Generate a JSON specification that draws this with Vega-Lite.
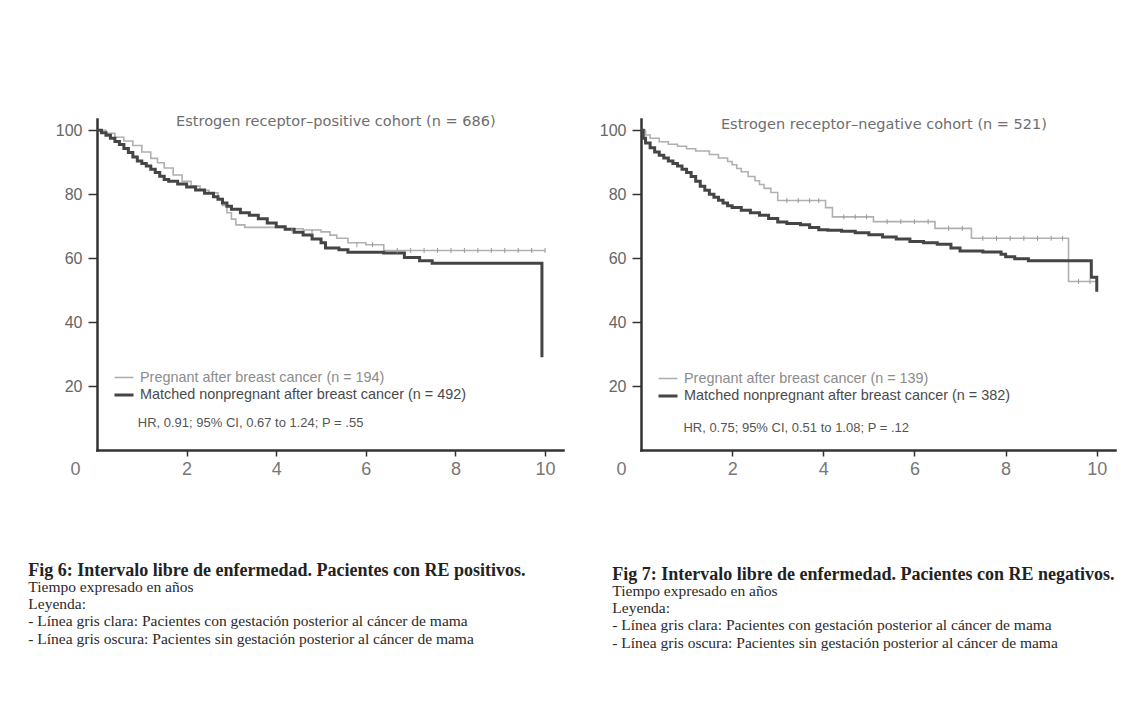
{
  "$schema": "https://vega.github.io/schema/vega-lite/v6.json",
  "background": "white",
  "padding": {"left": 28, "top": 113, "right": 5, "bottom": 5},
  "spacing": 36,
  "config": {
    "view": {"stroke": null},
    "font": "Liberation Sans",
    "axis": {"grid": false, "title": null, "domainColor": "#333333", "domainWidth": 2.5, "domainCap": "square", "tickColor": "#333333", "tickWidth": 1.5, "labelColor": "#666666", "labelFont": "Liberation Sans", "labelFlush": false}
  },
  "resolve": {"scale": {"color": "independent", "strokeWidth": "independent"}, "legend": {"color": "independent", "strokeWidth": "independent"}},
  "datasets": {
    "erpos": [
      {"t": 0, "s": 100, "g": "Pregnant after breast cancer (n = 194)"},
      {"t": 0.2, "s": 99, "g": "Pregnant after breast cancer (n = 194)"},
      {"t": 0.4, "s": 97.8, "g": "Pregnant after breast cancer (n = 194)"},
      {"t": 0.6, "s": 96.6, "g": "Pregnant after breast cancer (n = 194)"},
      {"t": 0.8, "s": 95.2, "g": "Pregnant after breast cancer (n = 194)"},
      {"t": 1.0, "s": 93.2, "g": "Pregnant after breast cancer (n = 194)"},
      {"t": 1.2, "s": 91.2, "g": "Pregnant after breast cancer (n = 194)"},
      {"t": 1.35, "s": 89.8, "g": "Pregnant after breast cancer (n = 194)"},
      {"t": 1.5, "s": 88.2, "g": "Pregnant after breast cancer (n = 194)"},
      {"t": 1.7, "s": 86, "g": "Pregnant after breast cancer (n = 194)"},
      {"t": 1.9, "s": 84, "g": "Pregnant after breast cancer (n = 194)"},
      {"t": 2.1, "s": 82.5, "g": "Pregnant after breast cancer (n = 194)"},
      {"t": 2.3, "s": 81.2, "g": "Pregnant after breast cancer (n = 194)"},
      {"t": 2.5, "s": 80.4, "g": "Pregnant after breast cancer (n = 194)"},
      {"t": 2.7, "s": 78.6, "g": "Pregnant after breast cancer (n = 194)"},
      {"t": 2.8, "s": 76.5, "g": "Pregnant after breast cancer (n = 194)"},
      {"t": 2.9, "s": 74.2, "g": "Pregnant after breast cancer (n = 194)"},
      {"t": 3.0, "s": 72.2, "g": "Pregnant after breast cancer (n = 194)"},
      {"t": 3.1, "s": 70.4, "g": "Pregnant after breast cancer (n = 194)"},
      {"t": 3.3, "s": 69.6, "g": "Pregnant after breast cancer (n = 194)"},
      {"t": 4.2, "s": 69.2, "g": "Pregnant after breast cancer (n = 194)"},
      {"t": 4.6, "s": 68.8, "g": "Pregnant after breast cancer (n = 194)"},
      {"t": 5.0, "s": 68.2, "g": "Pregnant after breast cancer (n = 194)"},
      {"t": 5.2, "s": 67.2, "g": "Pregnant after breast cancer (n = 194)"},
      {"t": 5.35, "s": 66.2, "g": "Pregnant after breast cancer (n = 194)"},
      {"t": 5.6, "s": 64.8, "g": "Pregnant after breast cancer (n = 194)"},
      {"t": 6.0, "s": 64.2, "g": "Pregnant after breast cancer (n = 194)"},
      {"t": 6.4, "s": 62.4, "g": "Pregnant after breast cancer (n = 194)"},
      {"t": 10.0, "s": 62.4, "g": "Pregnant after breast cancer (n = 194)"},
      {"t": 0, "s": 100, "g": "Matched nonpregnant after breast cancer (n = 492)"},
      {"t": 0.1, "s": 99.2, "g": "Matched nonpregnant after breast cancer (n = 492)"},
      {"t": 0.2, "s": 98.4, "g": "Matched nonpregnant after breast cancer (n = 492)"},
      {"t": 0.3, "s": 97.5, "g": "Matched nonpregnant after breast cancer (n = 492)"},
      {"t": 0.4, "s": 96.5, "g": "Matched nonpregnant after breast cancer (n = 492)"},
      {"t": 0.5, "s": 95.5, "g": "Matched nonpregnant after breast cancer (n = 492)"},
      {"t": 0.6, "s": 94.3, "g": "Matched nonpregnant after breast cancer (n = 492)"},
      {"t": 0.7, "s": 93, "g": "Matched nonpregnant after breast cancer (n = 492)"},
      {"t": 0.8, "s": 91.6, "g": "Matched nonpregnant after breast cancer (n = 492)"},
      {"t": 0.9, "s": 90.4, "g": "Matched nonpregnant after breast cancer (n = 492)"},
      {"t": 1.0, "s": 89.6, "g": "Matched nonpregnant after breast cancer (n = 492)"},
      {"t": 1.1, "s": 88.8, "g": "Matched nonpregnant after breast cancer (n = 492)"},
      {"t": 1.2, "s": 87.8, "g": "Matched nonpregnant after breast cancer (n = 492)"},
      {"t": 1.3, "s": 86.8, "g": "Matched nonpregnant after breast cancer (n = 492)"},
      {"t": 1.4, "s": 85.6, "g": "Matched nonpregnant after breast cancer (n = 492)"},
      {"t": 1.5, "s": 84.6, "g": "Matched nonpregnant after breast cancer (n = 492)"},
      {"t": 1.6, "s": 84, "g": "Matched nonpregnant after breast cancer (n = 492)"},
      {"t": 1.8, "s": 83.2, "g": "Matched nonpregnant after breast cancer (n = 492)"},
      {"t": 2.0, "s": 82.2, "g": "Matched nonpregnant after breast cancer (n = 492)"},
      {"t": 2.2, "s": 81.3, "g": "Matched nonpregnant after breast cancer (n = 492)"},
      {"t": 2.4, "s": 80.3, "g": "Matched nonpregnant after breast cancer (n = 492)"},
      {"t": 2.6, "s": 79.2, "g": "Matched nonpregnant after breast cancer (n = 492)"},
      {"t": 2.7, "s": 78.4, "g": "Matched nonpregnant after breast cancer (n = 492)"},
      {"t": 2.8, "s": 77.2, "g": "Matched nonpregnant after breast cancer (n = 492)"},
      {"t": 2.9, "s": 76.2, "g": "Matched nonpregnant after breast cancer (n = 492)"},
      {"t": 3.0, "s": 75.3, "g": "Matched nonpregnant after breast cancer (n = 492)"},
      {"t": 3.2, "s": 74.2, "g": "Matched nonpregnant after breast cancer (n = 492)"},
      {"t": 3.4, "s": 73.4, "g": "Matched nonpregnant after breast cancer (n = 492)"},
      {"t": 3.6, "s": 72.3, "g": "Matched nonpregnant after breast cancer (n = 492)"},
      {"t": 3.8, "s": 71, "g": "Matched nonpregnant after breast cancer (n = 492)"},
      {"t": 4.0, "s": 69.8, "g": "Matched nonpregnant after breast cancer (n = 492)"},
      {"t": 4.2, "s": 69, "g": "Matched nonpregnant after breast cancer (n = 492)"},
      {"t": 4.4, "s": 68.1, "g": "Matched nonpregnant after breast cancer (n = 492)"},
      {"t": 4.6, "s": 67.2, "g": "Matched nonpregnant after breast cancer (n = 492)"},
      {"t": 4.8, "s": 66, "g": "Matched nonpregnant after breast cancer (n = 492)"},
      {"t": 5.0, "s": 64.8, "g": "Matched nonpregnant after breast cancer (n = 492)"},
      {"t": 5.1, "s": 63.2, "g": "Matched nonpregnant after breast cancer (n = 492)"},
      {"t": 5.4, "s": 62.6, "g": "Matched nonpregnant after breast cancer (n = 492)"},
      {"t": 5.6, "s": 61.8, "g": "Matched nonpregnant after breast cancer (n = 492)"},
      {"t": 6.4, "s": 61.6, "g": "Matched nonpregnant after breast cancer (n = 492)"},
      {"t": 6.86, "s": 60.2, "g": "Matched nonpregnant after breast cancer (n = 492)"},
      {"t": 7.2, "s": 59.2, "g": "Matched nonpregnant after breast cancer (n = 492)"},
      {"t": 7.48, "s": 58.4, "g": "Matched nonpregnant after breast cancer (n = 492)"},
      {"t": 9.93, "s": 29, "g": "Matched nonpregnant after breast cancer (n = 492)"}
    ],
    "erneg": [
      {"t": 0, "s": 100, "g": "Pregnant after breast cancer (n = 139)"},
      {"t": 0.1, "s": 98.5, "g": "Pregnant after breast cancer (n = 139)"},
      {"t": 0.2, "s": 97.5, "g": "Pregnant after breast cancer (n = 139)"},
      {"t": 0.4, "s": 96.4, "g": "Pregnant after breast cancer (n = 139)"},
      {"t": 0.6, "s": 95.6, "g": "Pregnant after breast cancer (n = 139)"},
      {"t": 0.8, "s": 95, "g": "Pregnant after breast cancer (n = 139)"},
      {"t": 1.0, "s": 94.2, "g": "Pregnant after breast cancer (n = 139)"},
      {"t": 1.2, "s": 93.5, "g": "Pregnant after breast cancer (n = 139)"},
      {"t": 1.5, "s": 92.4, "g": "Pregnant after breast cancer (n = 139)"},
      {"t": 1.7, "s": 91.3, "g": "Pregnant after breast cancer (n = 139)"},
      {"t": 1.9, "s": 90.2, "g": "Pregnant after breast cancer (n = 139)"},
      {"t": 2.0, "s": 89.2, "g": "Pregnant after breast cancer (n = 139)"},
      {"t": 2.1, "s": 88, "g": "Pregnant after breast cancer (n = 139)"},
      {"t": 2.2, "s": 87, "g": "Pregnant after breast cancer (n = 139)"},
      {"t": 2.35, "s": 85.5, "g": "Pregnant after breast cancer (n = 139)"},
      {"t": 2.5, "s": 84.2, "g": "Pregnant after breast cancer (n = 139)"},
      {"t": 2.6, "s": 83, "g": "Pregnant after breast cancer (n = 139)"},
      {"t": 2.7, "s": 81.8, "g": "Pregnant after breast cancer (n = 139)"},
      {"t": 2.85, "s": 80.5, "g": "Pregnant after breast cancer (n = 139)"},
      {"t": 3.0, "s": 78, "g": "Pregnant after breast cancer (n = 139)"},
      {"t": 4.05, "s": 75.8, "g": "Pregnant after breast cancer (n = 139)"},
      {"t": 4.2, "s": 72.9, "g": "Pregnant after breast cancer (n = 139)"},
      {"t": 5.1, "s": 71.4, "g": "Pregnant after breast cancer (n = 139)"},
      {"t": 6.45, "s": 69.3, "g": "Pregnant after breast cancer (n = 139)"},
      {"t": 7.25, "s": 66.2, "g": "Pregnant after breast cancer (n = 139)"},
      {"t": 9.38, "s": 52.7, "g": "Pregnant after breast cancer (n = 139)"},
      {"t": 10.0, "s": 52, "g": "Pregnant after breast cancer (n = 139)"},
      {"t": 0, "s": 100, "g": "Matched nonpregnant after breast cancer (n = 382)"},
      {"t": 0.05, "s": 97.5, "g": "Matched nonpregnant after breast cancer (n = 382)"},
      {"t": 0.1, "s": 96, "g": "Matched nonpregnant after breast cancer (n = 382)"},
      {"t": 0.2, "s": 94.5, "g": "Matched nonpregnant after breast cancer (n = 382)"},
      {"t": 0.3, "s": 93.2, "g": "Matched nonpregnant after breast cancer (n = 382)"},
      {"t": 0.4, "s": 92.2, "g": "Matched nonpregnant after breast cancer (n = 382)"},
      {"t": 0.5, "s": 91.3, "g": "Matched nonpregnant after breast cancer (n = 382)"},
      {"t": 0.6, "s": 90.4, "g": "Matched nonpregnant after breast cancer (n = 382)"},
      {"t": 0.7, "s": 89.6, "g": "Matched nonpregnant after breast cancer (n = 382)"},
      {"t": 0.8, "s": 88.8, "g": "Matched nonpregnant after breast cancer (n = 382)"},
      {"t": 0.9, "s": 87.8, "g": "Matched nonpregnant after breast cancer (n = 382)"},
      {"t": 1.0, "s": 86.8, "g": "Matched nonpregnant after breast cancer (n = 382)"},
      {"t": 1.1, "s": 85.5, "g": "Matched nonpregnant after breast cancer (n = 382)"},
      {"t": 1.2, "s": 84, "g": "Matched nonpregnant after breast cancer (n = 382)"},
      {"t": 1.3, "s": 82.5, "g": "Matched nonpregnant after breast cancer (n = 382)"},
      {"t": 1.4, "s": 81.2, "g": "Matched nonpregnant after breast cancer (n = 382)"},
      {"t": 1.5, "s": 80, "g": "Matched nonpregnant after breast cancer (n = 382)"},
      {"t": 1.6, "s": 79, "g": "Matched nonpregnant after breast cancer (n = 382)"},
      {"t": 1.7, "s": 78.1, "g": "Matched nonpregnant after breast cancer (n = 382)"},
      {"t": 1.8, "s": 77.2, "g": "Matched nonpregnant after breast cancer (n = 382)"},
      {"t": 1.9, "s": 76.4, "g": "Matched nonpregnant after breast cancer (n = 382)"},
      {"t": 2.0, "s": 75.8, "g": "Matched nonpregnant after breast cancer (n = 382)"},
      {"t": 2.2, "s": 75, "g": "Matched nonpregnant after breast cancer (n = 382)"},
      {"t": 2.4, "s": 74.2, "g": "Matched nonpregnant after breast cancer (n = 382)"},
      {"t": 2.6, "s": 73.4, "g": "Matched nonpregnant after breast cancer (n = 382)"},
      {"t": 2.8, "s": 72.4, "g": "Matched nonpregnant after breast cancer (n = 382)"},
      {"t": 3.0, "s": 71.3, "g": "Matched nonpregnant after breast cancer (n = 382)"},
      {"t": 3.2, "s": 70.8, "g": "Matched nonpregnant after breast cancer (n = 382)"},
      {"t": 3.5, "s": 70.4, "g": "Matched nonpregnant after breast cancer (n = 382)"},
      {"t": 3.7, "s": 69.6, "g": "Matched nonpregnant after breast cancer (n = 382)"},
      {"t": 3.9, "s": 68.9, "g": "Matched nonpregnant after breast cancer (n = 382)"},
      {"t": 4.1, "s": 68.7, "g": "Matched nonpregnant after breast cancer (n = 382)"},
      {"t": 4.4, "s": 68.4, "g": "Matched nonpregnant after breast cancer (n = 382)"},
      {"t": 4.7, "s": 67.9, "g": "Matched nonpregnant after breast cancer (n = 382)"},
      {"t": 5.0, "s": 67.3, "g": "Matched nonpregnant after breast cancer (n = 382)"},
      {"t": 5.3, "s": 66.6, "g": "Matched nonpregnant after breast cancer (n = 382)"},
      {"t": 5.6, "s": 66, "g": "Matched nonpregnant after breast cancer (n = 382)"},
      {"t": 5.9, "s": 65.2, "g": "Matched nonpregnant after breast cancer (n = 382)"},
      {"t": 6.2, "s": 64.8, "g": "Matched nonpregnant after breast cancer (n = 382)"},
      {"t": 6.5, "s": 64.3, "g": "Matched nonpregnant after breast cancer (n = 382)"},
      {"t": 6.8, "s": 63.2, "g": "Matched nonpregnant after breast cancer (n = 382)"},
      {"t": 7.0, "s": 62.2, "g": "Matched nonpregnant after breast cancer (n = 382)"},
      {"t": 7.5, "s": 61.9, "g": "Matched nonpregnant after breast cancer (n = 382)"},
      {"t": 7.9, "s": 61.2, "g": "Matched nonpregnant after breast cancer (n = 382)"},
      {"t": 8.0, "s": 60.4, "g": "Matched nonpregnant after breast cancer (n = 382)"},
      {"t": 8.2, "s": 59.8, "g": "Matched nonpregnant after breast cancer (n = 382)"},
      {"t": 8.5, "s": 59.2, "g": "Matched nonpregnant after breast cancer (n = 382)"},
      {"t": 9.88, "s": 54, "g": "Matched nonpregnant after breast cancer (n = 382)"},
      {"t": 10.0, "s": 49.5, "g": "Matched nonpregnant after breast cancer (n = 382)"}
    ],
    "cenpos": [
      {"t": 4.35, "s": 68.8}, {"t": 4.8, "s": 68.2}, {"t": 5.8, "s": 64.2}, {"t": 6.15, "s": 64.2},
      {"t": 6.7, "s": 62.4}, {"t": 7.0, "s": 62.4}, {"t": 7.3, "s": 62.4}, {"t": 7.6, "s": 62.4},
      {"t": 7.9, "s": 62.4}, {"t": 8.2, "s": 62.4}, {"t": 8.5, "s": 62.4}, {"t": 8.8, "s": 62.4},
      {"t": 9.1, "s": 62.4}, {"t": 9.4, "s": 62.4}, {"t": 9.7, "s": 62.4}, {"t": 10.0, "s": 62.4}
    ],
    "cenneg": [
      {"t": 3.2, "s": 78}, {"t": 3.45, "s": 78}, {"t": 3.7, "s": 78}, {"t": 3.9, "s": 78},
      {"t": 4.45, "s": 72.9}, {"t": 4.7, "s": 72.9}, {"t": 4.95, "s": 72.9},
      {"t": 5.4, "s": 71.4}, {"t": 5.7, "s": 71.4}, {"t": 6.0, "s": 71.4}, {"t": 6.3, "s": 71.4},
      {"t": 6.75, "s": 69.3}, {"t": 7.05, "s": 69.3},
      {"t": 7.5, "s": 66.2}, {"t": 7.8, "s": 66.2}, {"t": 8.1, "s": 66.2}, {"t": 8.4, "s": 66.2},
      {"t": 8.7, "s": 66.2}, {"t": 9.0, "s": 66.2}, {"t": 9.25, "s": 66.2},
      {"t": 9.6, "s": 52.7}, {"t": 9.85, "s": 52.7}
    ],
    "notes": [
      {"panel": "pos", "kind": "head", "label": "Estrogen receptor–positive cohort (n = 686)"},
      {"panel": "pos", "kind": "hr", "label": "HR, 0.91; 95% CI, 0.67 to 1.24; P = .55"},
      {"panel": "neg", "kind": "head", "label": "Estrogen receptor–negative cohort (n = 521)"},
      {"panel": "neg", "kind": "hr", "label": "HR, 0.75; 95% CI, 0.51 to 1.08; P = .12"}
    ]
  },
  "hconcat": [
    {
      "width": 466,
      "height": 331,
      "title": {
        "text": "Fig 6: Intervalo libre de enfermedad. Pacientes con RE positivos.",
        "subtitle": ["Tiempo expresado en años", "Leyenda:", "- Línea gris clara: Pacientes con gestación posterior al cáncer de mama", "- Línea gris oscura: Pacientes sin gestación posterior al cáncer de mama"],
        "orient": "bottom", "anchor": "start", "frame": "bounds", "dx": -27, "offset": 84,
        "font": "Liberation Serif", "fontSize": 18, "fontWeight": "bold", "color": "#222222",
        "subtitleFont": "Liberation Serif", "subtitleFontSize": 15.5, "subtitleColor": "#2a2a2a",
        "subtitlePadding": 0, "subtitleLineHeight": 17.2
      },
      "layer": [
        {
          "data": {"name": "erpos"},
          "mark": {"type": "line", "interpolate": "step-after"},
          "encoding": {
            "x": {"field": "t", "type": "quantitative", "scale": {"domain": [0, 10.4], "nice": false, "zero": false},
              "axis": {"values": [0, 2, 4, 6, 8, 10], "labelFontSize": 18, "labelColor": "#777777", "labelPadding": 4, "tickSize": 6,
                "labelOffset": {"condition": {"test": "datum.value === 0", "value": -22}, "value": 0},
                "tickOpacity": {"condition": {"test": "datum.value === 0", "value": 0}, "value": 1}}},
            "y": {"field": "s", "type": "quantitative", "scale": {"domain": [0, 103.5], "nice": false},
              "axis": {"values": [20, 40, 60, 80, 100], "labelFontSize": 16, "labelPadding": 6, "tickSize": 9}},
            "color": {"field": "g", "type": "nominal",
              "scale": {"domain": ["Pregnant after breast cancer (n = 194)", "Matched nonpregnant after breast cancer (n = 492)"], "range": ["#b0b0b0", "#454545"]},
              "legend": {"orient": "none", "legendX": 16, "legendY": 248, "title": null, "labelFontSize": 14.4, "labelFont": "Liberation Sans", "symbolSize": 361, "rowPadding": -1, "labelOffset": 5, "padding": 0, "labelLimit": 400,
                "encode": {"labels": {"update": {"fill": {"signal": "indexof(datum.label, 'Pregnant') === 0 ? '#8c8c8c' : '#4a4a4a'"}}}}}},
            "strokeWidth": {"field": "g", "type": "nominal",
              "scale": {"domain": ["Pregnant after breast cancer (n = 194)", "Matched nonpregnant after breast cancer (n = 492)"], "range": [1.6, 3]},
              "legend": {"orient": "none", "legendX": 16, "legendY": 248, "title": null, "labelFontSize": 14.4, "labelFont": "Liberation Sans", "symbolSize": 361, "rowPadding": -1, "labelOffset": 5, "padding": 0, "labelLimit": 400,
                "encode": {"labels": {"update": {"fill": {"signal": "indexof(datum.label, 'Pregnant') === 0 ? '#8c8c8c' : '#4a4a4a'"}}}}}}
          }
        },
        {
          "data": {"name": "cenpos"},
          "mark": {"type": "point", "shape": "M0,-1L0,1", "size": 25, "strokeWidth": 1, "color": "#999999", "filled": false, "opacity": 1},
          "encoding": {"x": {"field": "t", "type": "quantitative"}, "y": {"field": "s", "type": "quantitative"}}
        },
        {
          "data": {"name": "notes"},
          "transform": [{"filter": "datum.panel === 'pos' && datum.kind === 'head'"}],
          "mark": {"type": "text", "align": "center", "baseline": "middle", "fontSize": 14.5, "font": "DejaVu Sans", "color": "#6e6e6e"},
          "encoding": {"x": {"datum": 5.33, "type": "quantitative"}, "y": {"datum": 102.6, "type": "quantitative"}, "text": {"field": "label"}}
        },
        {
          "data": {"name": "notes"},
          "transform": [{"filter": "datum.panel === 'pos' && datum.kind === 'hr'"}],
          "mark": {"type": "text", "align": "left", "baseline": "middle", "fontSize": 13, "color": "#555555"},
          "encoding": {"x": {"datum": 0.91, "type": "quantitative"}, "y": {"datum": 8.5, "type": "quantitative"}, "text": {"field": "label"}}
        }
      ]
    },
    {
      "width": 474,
      "height": 331,
      "title": {
        "text": "Fig 7: Intervalo libre de enfermedad. Pacientes con RE negativos.",
        "subtitle": ["Tiempo expresado en años", "Leyenda:", "- Línea gris clara: Pacientes con gestación posterior al cáncer de mama", "- Línea gris oscura: Pacientes sin gestación posterior al cáncer de mama"],
        "orient": "bottom", "anchor": "start", "frame": "bounds", "dx": 13, "offset": 88,
        "font": "Liberation Serif", "fontSize": 18, "fontWeight": "bold", "color": "#222222",
        "subtitleFont": "Liberation Serif", "subtitleFontSize": 15.5, "subtitleColor": "#2a2a2a",
        "subtitlePadding": 0, "subtitleLineHeight": 17.2
      },
      "layer": [
        {
          "data": {"name": "erneg"},
          "mark": {"type": "line", "interpolate": "step-after"},
          "encoding": {
            "x": {"field": "t", "type": "quantitative", "scale": {"domain": [0, 10.4], "nice": false, "zero": false},
              "axis": {"values": [0, 2, 4, 6, 8, 10], "labelFontSize": 18, "labelColor": "#777777", "labelPadding": 4, "tickSize": 6,
                "labelOffset": {"condition": {"test": "datum.value === 0", "value": -20}, "value": 0},
                "tickOpacity": {"condition": {"test": "datum.value === 0", "value": 0}, "value": 1}}},
            "y": {"field": "s", "type": "quantitative", "scale": {"domain": [0, 103.5], "nice": false},
              "axis": {"values": [20, 40, 60, 80, 100], "labelFontSize": 16, "labelPadding": 6, "tickSize": 9}},
            "color": {"field": "g", "type": "nominal",
              "scale": {"domain": ["Pregnant after breast cancer (n = 139)", "Matched nonpregnant after breast cancer (n = 382)"], "range": ["#b0b0b0", "#454545"]},
              "legend": {"orient": "none", "legendX": 16, "legendY": 249, "title": null, "labelFontSize": 14.4, "labelFont": "Liberation Sans", "symbolSize": 361, "rowPadding": -1, "labelOffset": 5, "padding": 0, "labelLimit": 400,
                "encode": {"labels": {"update": {"fill": {"signal": "indexof(datum.label, 'Pregnant') === 0 ? '#8c8c8c' : '#4a4a4a'"}}}}}},
            "strokeWidth": {"field": "g", "type": "nominal",
              "scale": {"domain": ["Pregnant after breast cancer (n = 139)", "Matched nonpregnant after breast cancer (n = 382)"], "range": [1.6, 3]},
              "legend": {"orient": "none", "legendX": 16, "legendY": 249, "title": null, "labelFontSize": 14.4, "labelFont": "Liberation Sans", "symbolSize": 361, "rowPadding": -1, "labelOffset": 5, "padding": 0, "labelLimit": 400,
                "encode": {"labels": {"update": {"fill": {"signal": "indexof(datum.label, 'Pregnant') === 0 ? '#8c8c8c' : '#4a4a4a'"}}}}}}
          }
        },
        {
          "data": {"name": "cenneg"},
          "mark": {"type": "point", "shape": "M0,-1L0,1", "size": 25, "strokeWidth": 1, "color": "#999999", "filled": false, "opacity": 1},
          "encoding": {"x": {"field": "t", "type": "quantitative"}, "y": {"field": "s", "type": "quantitative"}}
        },
        {
          "data": {"name": "notes"},
          "transform": [{"filter": "datum.panel === 'neg' && datum.kind === 'head'"}],
          "mark": {"type": "text", "align": "center", "baseline": "middle", "fontSize": 14.5, "font": "DejaVu Sans", "color": "#6e6e6e"},
          "encoding": {"x": {"datum": 5.33, "type": "quantitative"}, "y": {"datum": 101.6, "type": "quantitative"}, "text": {"field": "label"}}
        },
        {
          "data": {"name": "notes"},
          "transform": [{"filter": "datum.panel === 'neg' && datum.kind === 'hr'"}],
          "mark": {"type": "text", "align": "left", "baseline": "middle", "fontSize": 13, "color": "#555555"},
          "encoding": {"x": {"datum": 0.93, "type": "quantitative"}, "y": {"datum": 6.8, "type": "quantitative"}, "text": {"field": "label"}}
        }
      ]
    }
  ]
}
